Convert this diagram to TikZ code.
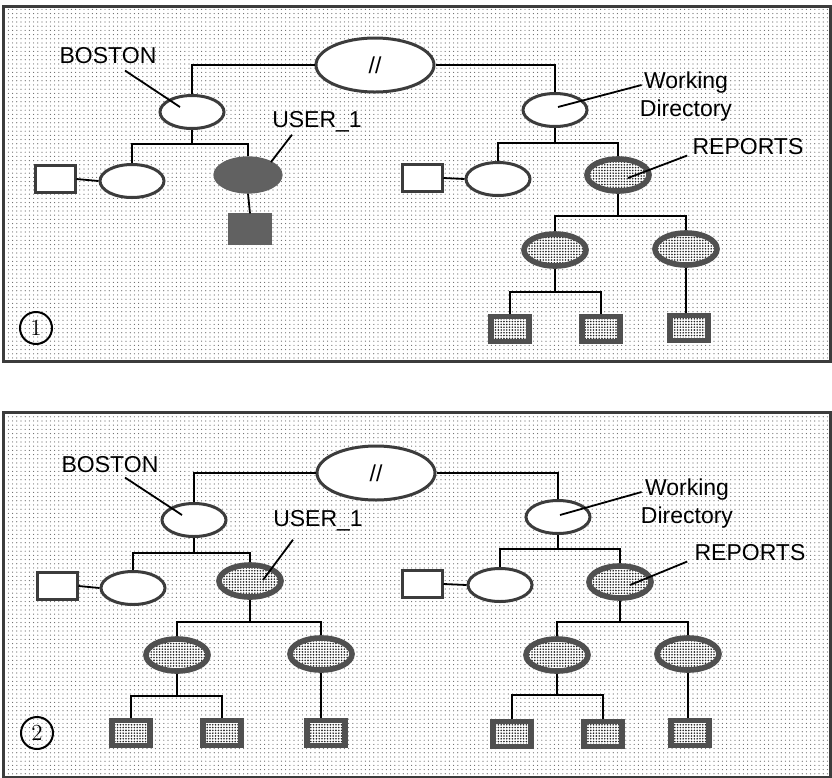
\documentclass[tikz,border=0pt]{standalone}
\usepackage{fontspec}
\setsansfont{Liberation Sans}
\usetikzlibrary{calc,patterns,shapes.geometric}
\definecolor{rim}{RGB}{60,60,60}
\definecolor{inkgray}{RGB}{80,80,80}
% light paper dots and the denser stipple of the touched nodes
\pgfdeclarepatternformonly{paperdots}{\pgfqpoint{-.5pt}{-.5pt}}{\pgfqpoint{.5pt}{.5pt}}%
  {\pgfqpoint{2.1pt}{2.1pt}}{\pgfpathcircle{\pgfpointorigin}{.3pt}\pgfusepath{fill}}
\pgfdeclarepatternformonly{stipple}{\pgfqpoint{-.5pt}{-.5pt}}{\pgfqpoint{.5pt}{.5pt}}%
  {\pgfqpoint{1.4pt}{1.4pt}}{\pgfpathcircle{\pgfpointorigin}{.45pt}\pgfusepath{fill}}

\begin{document}
\begin{tikzpicture}[x=.5pt,y=-.5pt,
        font=\sffamily\fontsize{11.5}{14}\selectfont,
        link/.style={line width=.9pt},
        panel/.style={draw=rim,line width=1.5pt,preaction={fill=white},
          pattern=paperdots,pattern color=black!60},
        dirnode/.style={ellipse,draw=rim,line width=1.5pt,fill=white,
          minimum width=32pt,minimum height=16.5pt,inner sep=0pt},
        filenode/.style={rectangle,draw=rim,line width=1.5pt,fill=white,
          minimum width=20pt,minimum height=13.5pt,inner sep=0pt},
        hitdir/.style={ellipse,draw=inkgray,line width=2.8pt,
          preaction={fill=white},pattern=stipple,pattern color=black!85,
          minimum width=31pt,minimum height=16pt,inner sep=0pt},
        hitfile/.style={rectangle,draw=inkgray,line width=2.8pt,
          preaction={fill=white},pattern=stipple,pattern color=black!85,
          minimum width=19pt,minimum height=12.5pt,inner sep=0pt},
        userdir/.style={ellipse,draw=black!62,fill=black!62,line width=.6pt,
          minimum width=34pt,minimum height=18pt,inner sep=0pt},
        userfile/.style={rectangle,draw=black!62,fill=black!62,line width=.6pt,
          minimum width=21pt,minimum height=15pt,inner sep=0pt},
        lbl/.style={inner sep=0pt},
        step num/.style={circle,draw,line width=1pt,minimum size=16pt,
          inner sep=0pt,font=\rmfamily\fontsize{11.5}{12}\selectfont}]
        \useasboundingbox (0,0) rectangle (832,778);

        % ---- panel 1: the user directory is only entered ----
        \draw[panel] (3,6) rectangle (830,361);
        \node[dirnode,minimum width=59pt,minimum height=27pt]
          (roota) at (375,65) {//};
        \node[dirnode] (bostona) at (192,112) {};
        \node[dirnode] (wda) at (555,110) {};
        \draw[link] (roota.west) -| (bostona.north);
        \draw[link] (roota.east) -| (wda.north);

        % left branch
        \node[dirnode] (lefta) at (132,181) {};
        \node[filenode] (lfilea) at (55,179) {};
        \node[userdir] (usera) at (248,175) {};
        \node[userfile] (ufilea) at (250,229) {};
        \draw[link] (bostona.south) -- ++(0,14) -| (lefta.north);
        \draw[link] (bostona.south) -- ++(0,14) -| (usera.north);
        \draw[link] (lfilea.east) -- (lefta.west);
        \draw[link] (usera.south) -- (ufilea.north);

        % right branch
        \node[dirnode] (righta) at (498,179) {};
        \node[filenode] (rfilea) at (422,178) {};
        \node[hitdir] (repa) at (618,175) {};
        \draw[link] (wda.south) -- ++(0,15) -| (righta.north);
        \draw[link] (wda.south) -- ++(0,15) -| (repa.north);
        \draw[link] (rfilea.east) -- (righta.west);
        \node[hitdir] (rsuba) at (555,250) {};
        \node[hitdir] (rsubb) at (686,249) {};
        \draw[link] (repa.south) -- ++(0,22) -| (rsuba.north);
        \draw[link] (repa.south) -- ++(0,22) -| (rsubb.north);
        \node[hitfile] (rdoca) at (510,329) {};
        \node[hitfile] (rdocb) at (601,329) {};
        \node[hitfile] (rdocc) at (689,328) {};
        \draw[link] (rsuba.south) -- ++(0,23) -| (rdoca.north);
        \draw[link] (rsuba.south) -- ++(0,23) -| (rdocb.north);
        \draw[link] (rsubb.south) -- (rsubb.south |- rdocc.north);

        % labels
        \node[lbl] (lbostona) at (108,56) {BOSTON};
        \draw[link] ($(lbostona.south)+(17,6)$) -- ($(bostona)+(-12,-5)$);
        \node[lbl] (lusera) at (317,122) {USER\_1};
        \draw[link] ($(lusera.south)+(-25,2)$) -- ($(usera)+(23,-13)$);
        \node[lbl,align=center] (lwda) at (686,97) {Working\\Directory};
        \draw[link] ($(lwda.west)+(2,-12)$) -- ($(wda)+(3,-3)$);
        \node[lbl] (lrepa) at (748,147) {REPORTS};
        \draw[link] ($(lrepa.south west)+(-5,0)$) -- ($(repa)+(10,3)$);
        \node[step num] (numa) at (36,328) {1};

        % ---- panel 2: the user directory is filled in ----
        \draw[panel] (3,412) rectangle (830,777);
        \node[dirnode,minimum width=59pt,minimum height=27pt]
          (rootb) at (376,473) {//};
        \node[dirnode] (bostonb) at (194,520) {};
        \node[dirnode] (wdb) at (558,517) {};
        \draw[link] (rootb.west) -| (bostonb.north);
        \draw[link] (rootb.east) -| (wdb.north);

        % left branch
        \node[dirnode] (leftb) at (133,588) {};
        \node[filenode] (lfileb) at (57,586) {};
        \node[hitdir] (userb) at (250,581) {};
        \draw[link] (bostonb.south) -- ++(0,15) -| (leftb.north);
        \draw[link] (bostonb.south) -- ++(0,15) -| (userb.north);
        \draw[link] (lfileb.east) -- (leftb.west);
        \node[hitdir] (usubb) at (177,655) {};
        \node[hitdir] (usubc) at (321,654) {};
        \draw[link] (userb.south) -- ++(0,22) -| (usubb.north);
        \draw[link] (userb.south) -- ++(0,22) -| (usubc.north);
        \node[hitfile] (udoca) at (131,733) {};
        \node[hitfile] (udocb) at (222,733) {};
        \node[hitfile] (udocc) at (326,733) {};
        \draw[link] (usubb.south) -- ++(0,22) -| (udoca.north);
        \draw[link] (usubb.south) -- ++(0,22) -| (udocb.north);
        \draw[link] (usubc.south) -- (usubc.south |- udocc.north);

        % right branch
        \node[dirnode] (rightb) at (500,585) {};
        \node[filenode] (rfileb) at (422,584) {};
        \node[hitdir] (repb) at (620,582) {};
        \draw[link] (wdb.south) -- ++(0,14) -| (rightb.north);
        \draw[link] (wdb.south) -- ++(0,14) -| (repb.north);
        \draw[link] (rfileb.east) -- (rightb.west);
        \node[hitdir] (rsubc) at (557,655) {};
        \node[hitdir] (rsubd) at (688,654) {};
        \draw[link] (repb.south) -- ++(0,21) -| (rsubc.north);
        \draw[link] (repb.south) -- ++(0,21) -| (rsubd.north);
        \node[hitfile] (rdocd) at (512,734) {};
        \node[hitfile] (rdoce) at (603,734) {};
        \node[hitfile] (rdocf) at (690,733) {};
        \draw[link] (rsubc.south) -- ++(0,21) -| (rdocd.north);
        \draw[link] (rsubc.south) -- ++(0,21) -| (rdoce.north);
        \draw[link] (rsubd.south) -- (rsubd.south |- rdocf.north);

        % labels
        \node[lbl] (lbostonb) at (110,465) {BOSTON};
        \draw[link] ($(lbostonb.south)+(15,4)$) -- ($(bostonb)+(-12,-5)$);
        \node[lbl] (luserb) at (318,521) {USER\_1};
        \draw[link] ($(luserb.south)+(-25,8)$) -- ($(userb)+(13,-1)$);
        \node[lbl,align=center] (lwdb) at (687,504) {Working\\Directory};
        \draw[link] ($(lwdb.west)+(1,-12)$) -- ($(wdb)+(2,-2)$);
        \node[lbl] (lrepb) at (750,553) {REPORTS};
        \draw[link] ($(lrepb.south west)+(-7,0)$) -- ($(repb)+(10,3)$);
        \node[step num] (numb) at (37,733) {2};
      \end{tikzpicture}
\end{document}
